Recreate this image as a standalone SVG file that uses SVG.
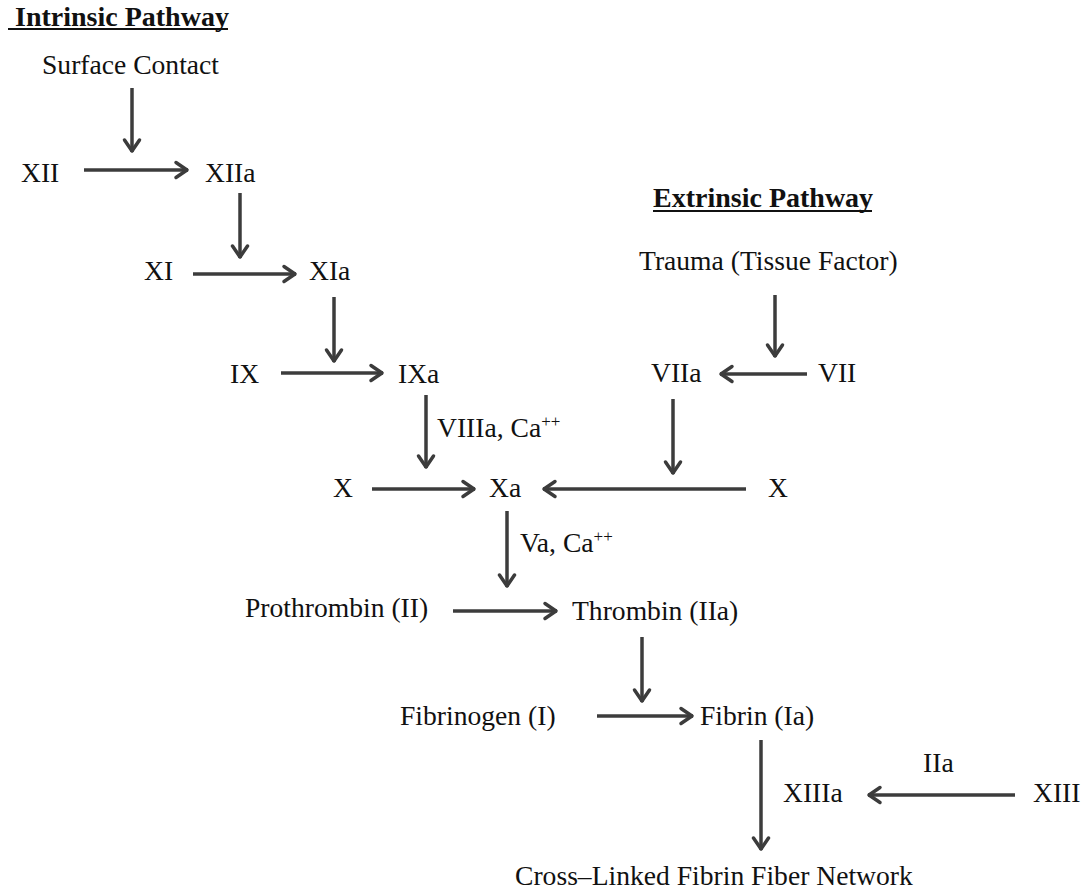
<svg xmlns="http://www.w3.org/2000/svg" width="1086" height="890" viewBox="0 0 1086 890">
<style>
text{font-family:"Liberation Serif","Times New Roman",serif;font-size:27.6px;fill:#111}
.h{font-weight:bold;font-size:28px}
.sup{font-size:17px}
.ul{stroke:#111;stroke-width:2}
.c line{stroke:#3c3c3c;stroke-width:3.5;fill:none;marker-end:url(#ah)}
</style>
<defs>
<marker id="ah" viewBox="-16 -10 18 20" markerWidth="18" markerHeight="20" refX="0" refY="0" orient="auto" markerUnits="userSpaceOnUse">
<path d="M-12,-7.5 L-1,0 L-12,7.5" fill="none" stroke="#3c3c3c" stroke-width="3.5" stroke-linecap="round" stroke-linejoin="round"/>
</marker>
</defs>
<rect width="1086" height="890" fill="#fff"/>
<g id="title-intrinsic"><text class="h" x="15" y="26">Intrinsic Pathway</text><line class="ul" x1="8" y1="29" x2="228" y2="29"/></g>
<g id="title-extrinsic"><text class="h" x="653" y="207">Extrinsic Pathway</text><line class="ul" x1="653" y1="211" x2="872" y2="211"/></g>
<g id="surface"><text x="42" y="74">Surface Contact</text></g>
<g id="XII"><text x="21" y="182">XII</text></g>
<g id="XIIa"><text x="205" y="182">XIIa</text></g>
<g id="XI"><text x="144" y="280">XI</text></g>
<g id="XIa"><text x="309" y="280">XIa</text></g>
<g id="IX"><text x="230" y="383">IX</text></g>
<g id="IXa"><text x="398" y="383">IXa</text></g>
<g id="lbl-VIIIa"><text x="437" y="437">VIIIa, Ca<tspan class="sup" dy="-10">++</tspan></text></g>
<g id="trauma"><text x="639" y="270">Trauma (Tissue Factor)</text></g>
<g id="VIIa"><text x="651" y="382">VIIa</text></g>
<g id="VII"><text x="818" y="382">VII</text></g>
<g id="X-left"><text x="333" y="497">X</text></g>
<g id="Xa"><text x="489" y="497">Xa</text></g>
<g id="X-right"><text x="768" y="497">X</text></g>
<g id="lbl-Va"><text x="520" y="552">Va, Ca<tspan class="sup" dy="-10">++</tspan></text></g>
<g id="prothrombin"><text x="245" y="617">Prothrombin (II)</text></g>
<g id="thrombin"><text x="572" y="620">Thrombin (IIa)</text></g>
<g id="fibrinogen"><text x="400" y="725">Fibrinogen (I)</text></g>
<g id="fibrin"><text x="700" y="725">Fibrin (Ia)</text></g>
<g id="lbl-IIa"><text x="923" y="772">IIa</text></g>
<g id="XIIIa"><text x="783" y="802">XIIIa</text></g>
<g id="XIII"><text x="1033" y="802">XIII</text></g>
<g id="network"><text x="515" y="885">Cross–Linked Fibrin Fiber Network</text></g>
<g id="connectors" class="c">
<line x1="132" y1="88" x2="132" y2="152"/>
<line x1="84" y1="170" x2="188" y2="170"/>
<line x1="240" y1="193" x2="240" y2="258"/>
<line x1="193" y1="274" x2="296" y2="274"/>
<line x1="334" y1="297" x2="334" y2="362"/>
<line x1="281" y1="373" x2="383" y2="373"/>
<line x1="426" y1="395" x2="426" y2="468"/>
<line x1="372" y1="489" x2="475" y2="489"/>
<line x1="775" y1="295" x2="775" y2="357"/>
<line x1="807" y1="374" x2="720" y2="374"/>
<line x1="673" y1="399" x2="673" y2="474"/>
<line x1="746" y1="489" x2="543" y2="489"/>
<line x1="507" y1="511" x2="507" y2="587"/>
<line x1="453" y1="611" x2="557" y2="611"/>
<line x1="642" y1="637" x2="642" y2="702"/>
<line x1="597" y1="716" x2="693" y2="716"/>
<line x1="761" y1="740" x2="761" y2="850"/>
<line x1="1015" y1="795" x2="868" y2="795"/>
</g>
</svg>
